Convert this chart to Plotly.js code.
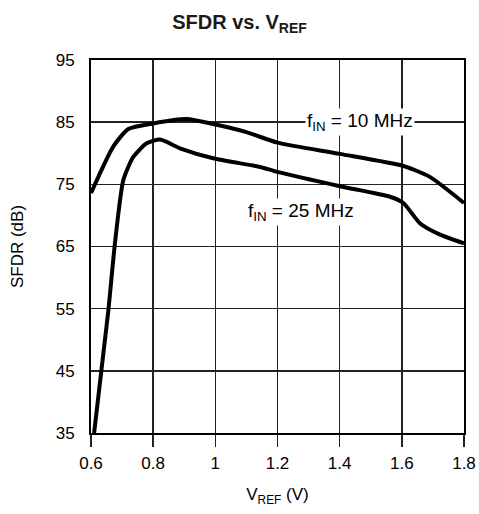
<!DOCTYPE html>
<html><head><meta charset="utf-8">
<script src="https://cdn.plot.ly/plotly-3.0.1.min.js"></script>
<style>body{margin:0;background:#fff}#c{width:479px;height:514px}</style>
</head><body><div id="c"></div>
<script>
const vref10 = [0.6, 0.672, 0.72, 0.80, 0.908, 0.993, 1.10, 1.20, 1.40, 1.605, 1.69, 1.8];
const sfdr10 = [73.6, 81.1, 83.9, 84.8, 85.5, 84.7, 83.4, 81.7, 79.9, 77.95, 76.2, 72.0];
const vref25 = [0.61, 0.656, 0.677, 0.704, 0.736, 0.779, 0.822, 0.886, 0.993, 1.144, 1.20, 1.401, 1.562, 1.605, 1.659, 1.723, 1.8];
const sfdr25 = [35, 54.8, 65.5, 75.7, 79.4, 81.6, 82.2, 80.8, 79.2, 77.8, 77.0, 74.7, 73.0, 72.0, 68.7, 66.9, 65.5];
const xTicks = [0.6, 0.8, 1, 1.2, 1.4, 1.6, 1.8];
const yTicks = [35, 45, 55, 65, 75, 85, 95];
const labels = [
  {x: 1.465, y: 85, text: 'f<sub>IN</sub> = 10 MHz'},
  {x: 1.277, y: 70.6, text: 'f<sub>IN</sub> = 25 MHz'}
];
const font = {family: 'Liberation Sans, Arial, sans-serif', size: 17, color: '#000'};
const traces = [
  {x: vref10, y: sfdr10, mode: 'lines', line: {color: '#000', width: 4, shape: 'spline', smoothing: 0.6}},
  {x: vref25, y: sfdr25, mode: 'lines', line: {color: '#000', width: 4, shape: 'spline', smoothing: 0.6}}
];
const axisCommon = {showline: true, mirror: true, linecolor: '#000', linewidth: 2,
  showgrid: true, gridcolor: '#222', gridwidth: 1.5, zeroline: false, tickfont: font};
const layout = {
  width: 479, height: 514,
  margin: {l: 91, r: 15, t: 60, b: 81},
  paper_bgcolor: '#fff', plot_bgcolor: '#fff',
  showlegend: false,
  font: font,
  title: {text: '<b>SFDR vs. V<sub>REF</sub></b>', x: 0.5, xanchor: 'center', y: 0.958, yanchor: 'middle',
    font: {family: 'Liberation Sans, Arial, sans-serif', size: 20, color: '#1a1a1a'}},
  xaxis: Object.assign({}, axisCommon, {range: [0.6, 1.8], tickvals: xTicks, ticktext: xTicks.map(String),
    ticks: 'outside', ticklen: 12, tickwidth: 1.5, tickcolor: '#222', ticklabelstandoff: 2,
    title: {text: 'V<sub>REF</sub> (V)', font: font, standoff: 16}}),
  yaxis: Object.assign({}, axisCommon, {range: [35, 95], tickvals: yTicks, ticktext: yTicks.map(String),
    ticks: '', ticklabelstandoff: 11,
    title: {text: 'SFDR (dB)', font: font, standoff: 28}}),
  annotations: labels.map(l => ({x: l.x, y: l.y, text: l.text, showarrow: false,
    font: Object.assign({}, font, {size: 19}), bgcolor: '#fff', borderpad: 1, xanchor: 'center', yanchor: 'middle'}))
};
Plotly.newPlot('c', traces, layout, {displayModeBar: false, staticPlot: true});
</script></body></html>
